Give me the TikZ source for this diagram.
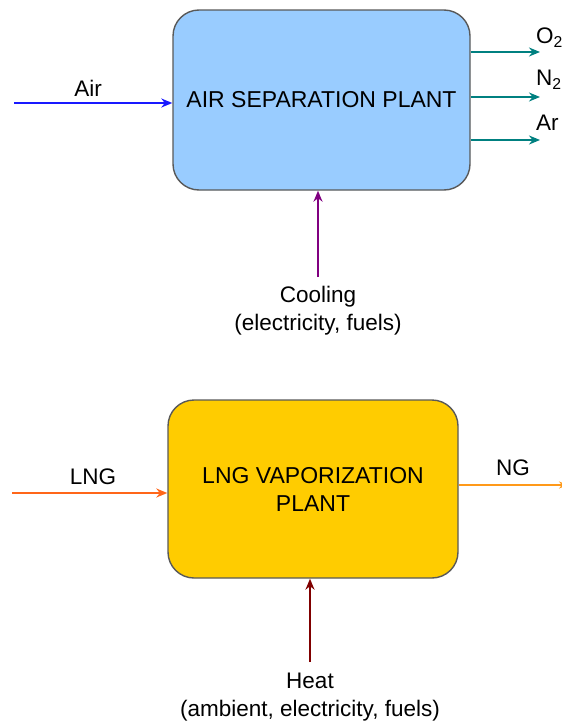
\documentclass[tikz,border=0pt]{standalone}
\usepackage{fontspec}
\setmainfont{Liberation Sans}
\usetikzlibrary{arrows.meta,calc}
\definecolor{AirClr}{rgb}{0.1,0.1,1}
\definecolor{GasClr}{rgb}{0,0.5,0.5}
\definecolor{CoolClr}{rgb}{0.5,0,0.5}
\definecolor{SepClr}{rgb}{0.6,0.8,1}
\definecolor{VapClr}{rgb}{1,0.8,0}
\definecolor{LngClr}{rgb}{1,0.4,0.1}
\definecolor{NgClr}{rgb}{1,0.6,0.1}
\definecolor{HeatClr}{rgb}{0.5,0,0}
\definecolor{EdgeClr}{rgb}{0.35,0.35,0.35}

\begin{document}
\begin{tikzpicture}[x=1pt,y=-1pt,
  plant/.style={draw=EdgeClr,line width=1.4pt,rounded corners=26pt,align=center,
    inner sep=0pt,font=\fontsize{23}{28}\selectfont},
  flow/.style={line width=2.4pt,-{Stealth[length=11pt,width=9pt]}},
  lbl/.style={font=\fontsize{22.5}{28}\selectfont,align=center,inner sep=0pt}]
\useasboundingbox (0,0) rectangle (562,723);

% air separation
\node[plant,fill=SepClr,minimum width=297pt,minimum height=180pt] (asp) at (321.5,100) {AIR SEPARATION PLANT};

\coordinate (airIn) at (14,103);
\draw[flow,AirClr] (airIn) -- (airIn -| asp.west);
\node[lbl] (air) at (88,88) {Air};

\coordinate (oOut) at (540,52);
\coordinate (nOut) at (540,97);
\coordinate (arOut) at (540,140);
\draw[flow,GasClr] (oOut -| asp.east) -- (oOut);
\draw[flow,GasClr] (nOut -| asp.east) -- (nOut);
\draw[flow,GasClr] (arOut -| asp.east) -- (arOut);
\node[lbl,anchor=west] (oxy) at (536,38) {O\textsubscript{2}};
\node[lbl,anchor=west] (nit) at (536,80) {N\textsubscript{2}};
\node[lbl,anchor=west] (arg) at (536,123) {Ar};

\coordinate (coolIn) at (318,277);
\draw[flow,CoolClr] (coolIn) -- (coolIn |- asp.south);
\node[lbl] (cool) at (318,311) {Cooling\\(electricity, fuels)};

% lng vaporization
\node[plant,fill=VapClr,minimum width=290pt,minimum height=178pt] (vap) at (313,489) {LNG VAPORIZATION\\PLANT};

\coordinate (lngIn) at (12,493);
\draw[flow,LngClr] (lngIn) -- (lngIn -| vap.west);
\node[lbl] (lng) at (93,477) {LNG};

\coordinate (ngOut) at (568,485);
\draw[line width=1.5pt,color=NgClr,-{Stealth[length=9pt,width=7pt]}] (ngOut -| vap.east) -- (ngOut);
\node[lbl] (ng) at (513,468) {NG};

\coordinate (heatIn) at (310,662);
\draw[flow,HeatClr] (heatIn) -- (heatIn |- vap.south);
\node[lbl] (heat) at (310,697) {Heat\\(ambient, electricity, fuels)};

\end{tikzpicture}
\end{document}
